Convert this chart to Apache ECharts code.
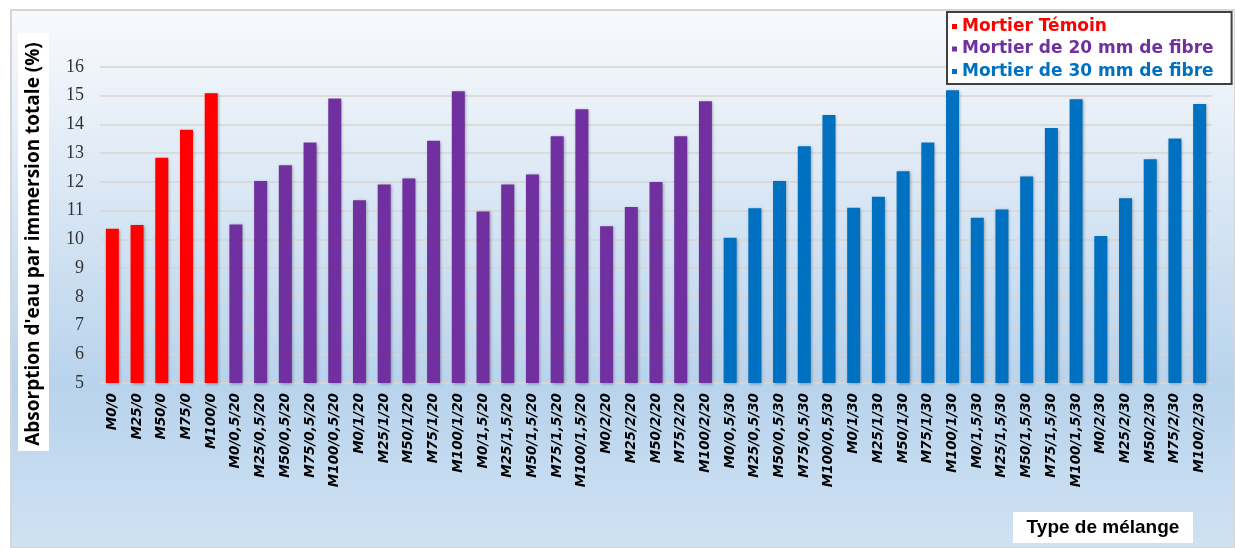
<!DOCTYPE html>
<html>
<head>
<meta charset="utf-8">
<script src="https://cdn.jsdelivr.net/npm/echarts@6/dist/echarts.min.js"></script>
<style>
html,body{margin:0;padding:0;background:#fff;}
#c{width:1235px;height:548px;}
</style>
</head>
<body>
<div id="c"></div>
<script>
// ---- data ----
const catTemoin = ['M0/0','M25/0','M50/0','M75/0','M100/0'];
const cat20 = ['M0/0,5/20','M25/0,5/20','M50/0,5/20','M75/0,5/20','M100/0,5/20',
  'M0/1/20','M25/1/20','M50/1/20','M75/1/20','M100/1/20',
  'M0/1,5/20','M25/1,5/20','M50/1,5/20','M75/1,5/20','M100/1,5/20',
  'M0/2/20','M25/2/20','M50/2/20','M75/2/20','M100/2/20'];
const cat30 = ['M0/0,5/30','M25/0,5/30','M50/0,5/30','M75/0,5/30','M100/0,5/30',
  'M0/1/30','M25/1/30','M50/1/30','M75/1/30','M100/1/30',
  'M0/1,5/30','M25/1,5/30','M50/1,5/30','M75/1,5/30','M100/1,5/30',
  'M0/2/30','M25/2/30','M50/2/30','M75/2/30','M100/2/30'];
const valTemoin = [10.37, 10.50, 12.84, 13.82, 15.09];
const val20 = [10.52, 12.03, 12.58, 13.37, 14.90,
  11.36, 11.91, 12.12, 13.43, 15.16,
  10.97, 11.91, 12.26, 13.59, 14.53,
  10.46, 11.13, 12.00, 13.59, 14.81];
const val30 = [10.06, 11.08, 12.03, 13.24, 14.33,
  11.10, 11.48, 12.37, 13.37, 15.19,
  10.75, 11.04, 12.19, 13.88, 14.88,
  10.12, 11.43, 12.79, 13.51, 14.71];
const seriesNames = ['Mortier Témoin', 'Mortier de 20 mm de fibre', 'Mortier de 30 mm de fibre'];
const yTicks = [5,6,7,8,9,10,11,12,13,14,15,16];
const yTitle = "Absorption d'eau par immersion totale (%)";
const xTitle = 'Type de mélange';

// ---- build ----
const categories = catTemoin.concat(cat20, cat30);
const n = categories.length;
function pad(vals, offset){
  const arr = new Array(n).fill('-');
  vals.forEach((v,i)=>{ arr[offset+i] = v; });
  return arr;
}
const colors = ['#ff0000', '#7030a0', '#0070c0'];
const groups = [pad(valTemoin,0), pad(val20,catTemoin.length), pad(val30,catTemoin.length+cat20.length)];

const chart = echarts.init(document.getElementById('c'), null, {renderer:'canvas'});
const option = {
  animation: false,
  backgroundColor: '#ffffff',
  graphic: [
    { type:'rect', z:-10, shape:{x:11,y:10,width:1224,height:538},
      style:{ stroke:'#d6d6d6', lineWidth:2,
        fill: new echarts.graphic.LinearGradient(0,0,0,1,[
          {offset:0,color:'#f8fafd'},
          {offset:0.15,color:'#ecf2f9'},
          {offset:0.7,color:'#b8d3ec'},
          {offset:1,color:'#d0e2f3'}]) } },
    { type:'rect', z:-5, shape:{x:18,y:33,width:31,height:418}, style:{fill:'#ffffff'} },
    { type:'text', z:5, x:34, y:244, rotation:Math.PI/2,
      style:{ text:yTitle, fill:'#000', fontFamily:'Open Sans', fontWeight:'bold', fontSize:19, align:'center', verticalAlign:'middle' } },
    { type:'rect', z:-5, shape:{x:1013,y:512,width:180,height:31}, style:{fill:'#ffffff'} },
    { type:'text', z:5, x:1103, y:528,
      style:{ text:xTitle, fill:'#000', fontFamily:'Liberation Sans', fontWeight:'bold', fontSize:19, align:'center', verticalAlign:'middle' } }
  ],
  legend: {
    orient:'vertical', left:947, top:12,
    backgroundColor:'#ffffff', borderColor:'#404040', borderWidth:2,
    padding:[5,18,3,5], itemGap:3.5, itemWidth:5, itemHeight:5, icon:'rect',
    textStyle:{ fontFamily:'DejaVu Sans', fontWeight:'bold', fontSize:17, lineHeight:19 },
    data: seriesNames.map((s,i)=>({ name:s, textStyle:{ color: colors[i] } }))
  },
  grid: { left:100, right:23, top:67, bottom:165, containLabel:false },
  xAxis: {
    type:'category', data: categories,
    axisTick:{show:false},
    axisLine:{ lineStyle:{ color:'#d9d4d0', width:1.5 } },
    axisLabel:{ interval:0, rotate:90, margin:10, color:'#000',
      fontFamily:'DejaVu Sans', fontStyle:'italic', fontWeight:'bold', fontSize:13.5 }
  },
  yAxis: {
    type:'value', min:yTicks[0], max:yTicks[yTicks.length-1], interval:1,
    axisLine:{show:false}, axisTick:{show:false},
    splitLine:{ lineStyle:{ color:'#d9d4d0', width:1.5 } },
    axisLabel:{ margin:16, color:'#333', fontFamily:'Liberation Serif', fontSize:18 }
  },
  series: seriesNames.map((s,i)=>({
    name:s, type:'bar', data: groups[i], barWidth:13, barGap:'-100%',
    itemStyle:{ color: colors[i], shadowBlur:3, shadowColor:'rgba(0,0,0,0.35)', shadowOffsetX:1, shadowOffsetY:1 }
  }))
};
chart.setOption(option);
</script>
</body>
</html>
